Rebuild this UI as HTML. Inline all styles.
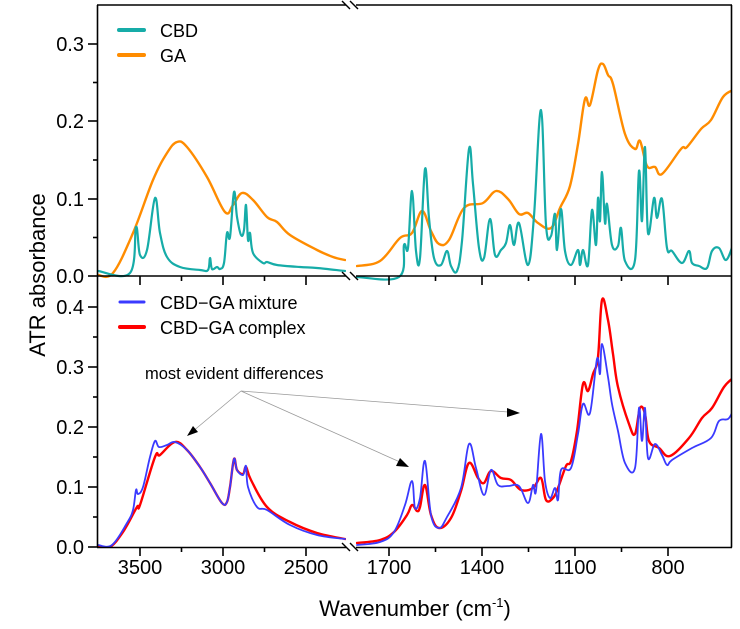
<!DOCTYPE html>
<html><head><meta charset="utf-8"><style>
html,body{margin:0;padding:0;background:#fff;}
svg{display:block;font-family:"Liberation Sans",Arial,sans-serif;}
</style></head><body>
<svg id="s" width="740" height="629" viewBox="0 0 740 629" xmlns="http://www.w3.org/2000/svg">
<defs>
<clipPath id="cl"><rect x="98" y="5" width="248" height="542"/></clipPath>
<clipPath id="cr"><rect x="356" y="5" width="376" height="542"/></clipPath>
</defs>
<g fill="none" stroke-linejoin="round" stroke-linecap="round">
<g clip-path="url(#cl)">
<polyline class="sm" stroke="#ff8c00" stroke-width="2.4" points="98,275 113,273 133,233 153,180 167,153 177,142 187,147 207,177 225,212 233,205 242,193 253,200 267,217 277,222 290,235 317,250 333,257 345,260"/>
<polyline class="sm" stroke="#16aca8" stroke-width="2.2" points="98,271 130,273 136,227 140,255 147,250 155,198 160,233 167,257 180,267 200,270 208,270 210,258 212,269 217,267 220,269 224,263 227,233 230,237 234,192 237,217 241,235 244,230 246,205 248,240 250,233 253,253 263,263 267,262 277,265 300,267 317,268 345,271"/>
<polyline class="sm" stroke="#ff0000" stroke-width="2.4" points="98,547 110,547 123,532 137,507 140,505 155,457 160,455 175,442 187,450 200,467 210,483 222,503 227,502 230,487 234,459 237,470 243,474 246,467 251,480 267,507 290,522 317,533 345,539"/>
<polyline class="sm" stroke="#3a3aff" stroke-width="1.8" points="98,545 112,545 127,523 133,510 136,490 138,494 143,487 150,457 155,441 159,447 167,445 175,442 187,450 200,467 210,483 222,503 227,502 230,487 234,459 237,470 243,475 246,466 248,487 257,507 267,510 290,525 317,535 345,539"/>
</g>
<g clip-path="url(#cr)">
<polyline class="sm" stroke="#ff8c00" stroke-width="2.4" points="357,266 380,261 400,238 412,233 422,211 431,231 439,244 449,240 464,208 483,203 496,191 508,199 519,214 528,213 538,223 551,228 560,208 570,186 578,144 585,99 590,105 598,70 603,64 608,75 613,84 625,134 635,149 640,141 647,166 655,167 662,174 681,149 687,147 701,129 711,120 723,97 733,90"/>
<polyline class="sm" stroke="#16aca8" stroke-width="2.2" points="357,277 399,277 404,245 408,248 412,191 416,251 420,258 425,169 429,218 434,258 441,265 447,251 451,266 457,271 462,241 469,149 473,184 479,248 484,258 490,219 495,255 501,250 506,243 510,225 514,245 519,223 528,265 534,216 541,110 546,225 551,236 555,214 557,250 561,209 565,251 571,265 578,250 580,265 583,250 588,265 592,210 596,245 598,198 600,221 602,172 605,223 607,204 612,245 618,246 621,228 625,261 635,260 639,171 642,221 645,147 648,233 654,198 657,218 662,199 667,248 672,251 682,263 689,251 692,263 699,266 707,268 712,251 719,248 726,260 733,245"/>
<polyline class="sm" stroke="#ff0000" stroke-width="2.4" points="357,543 380,540 394,532 407,515 412,505 417,511 420,507 425,485 431,515 439,528 451,518 461,491 469,463 478,478 484,483 491,471 501,478 511,480 521,490 533,488 541,478 546,500 553,498 558,488 566,466 571,461 577,431 583,384 588,391 593,374 598,357 602,300 608,320 613,354 618,387 629,424 635,434 640,408 645,414 649,441 659,448 670,456 689,438 702,418 712,408 724,387 733,378"/>
<polyline class="sm" stroke="#3a3aff" stroke-width="1.8" points="357,545 380,542 394,532 405,505 412,481 415,508 420,498 425,461 431,515 439,528 447,517 461,488 469,444 476,468 484,495 491,470 498,485 508,486 519,486 528,503 533,485 536,491 541,434 545,481 550,498 555,488 558,500 561,470 571,468 578,434 583,404 590,413 597,359 600,374 602,344 608,377 612,404 618,431 625,463 635,468 639,408 642,441 645,408 648,458 655,444 662,455 667,465 672,460 692,448 711,438 719,421 728,419 733,411"/>
</g>
</g>
<g stroke="#000" stroke-width="1.6" fill="none">
<line x1="97.5" y1="5" x2="97.5" y2="547.5"/>
<line x1="731.5" y1="5" x2="731.5" y2="547.5"/>
<line x1="97" y1="5" x2="346" y2="5"/><line x1="356" y1="5" x2="732" y2="5"/>
<line x1="97" y1="276" x2="346" y2="276"/><line x1="356" y1="276" x2="732" y2="276"/>
<line x1="97" y1="547.5" x2="346" y2="547.5"/><line x1="356" y1="547.5" x2="732" y2="547.5"/>
<g stroke-width="1.4">
<line x1="342" y1="1" x2="350" y2="9"/><line x1="350" y1="1" x2="358" y2="9"/>
<line x1="342" y1="272" x2="350" y2="280"/><line x1="350" y1="272" x2="358" y2="280"/>
<line x1="342" y1="543" x2="350" y2="551"/><line x1="350" y1="543" x2="358" y2="551"/>
</g>
<line x1="88" y1="44" x2="97" y2="44"/><line x1="88" y1="121" x2="97" y2="121"/><line x1="88" y1="199" x2="97" y2="199"/><line x1="88" y1="276" x2="97" y2="276"/>
<line x1="93" y1="82.5" x2="97" y2="82.5"/><line x1="93" y1="160" x2="97" y2="160"/><line x1="93" y1="237.5" x2="97" y2="237.5"/>
<line x1="88" y1="307" x2="97" y2="307"/><line x1="88" y1="367" x2="97" y2="367"/><line x1="88" y1="427" x2="97" y2="427"/><line x1="88" y1="487" x2="97" y2="487"/><line x1="88" y1="547" x2="97" y2="547"/>
<line x1="93" y1="337" x2="97" y2="337"/><line x1="93" y1="397" x2="97" y2="397"/><line x1="93" y1="457" x2="97" y2="457"/><line x1="93" y1="517" x2="97" y2="517"/>
<line x1="140" y1="547" x2="140" y2="556"/><line x1="223" y1="547" x2="223" y2="556"/><line x1="306" y1="547" x2="306" y2="556"/>
<line x1="181.5" y1="547" x2="181.5" y2="552"/><line x1="264.5" y1="547" x2="264.5" y2="552"/>
<line x1="389" y1="547" x2="389" y2="556"/><line x1="482" y1="547" x2="482" y2="556"/><line x1="575" y1="547" x2="575" y2="556"/><line x1="668" y1="547" x2="668" y2="556"/>
<line x1="435.5" y1="547" x2="435.5" y2="552"/><line x1="528.5" y1="547" x2="528.5" y2="552"/><line x1="621.5" y1="547" x2="621.5" y2="552"/>
<line x1="140" y1="276" x2="140" y2="285"/><line x1="223" y1="276" x2="223" y2="285"/><line x1="306" y1="276" x2="306" y2="285"/>
<line x1="181.5" y1="276" x2="181.5" y2="281"/><line x1="264.5" y1="276" x2="264.5" y2="281"/>
<line x1="389" y1="276" x2="389" y2="285"/><line x1="482" y1="276" x2="482" y2="285"/><line x1="575" y1="276" x2="575" y2="285"/><line x1="668" y1="276" x2="668" y2="285"/>
<line x1="435.5" y1="276" x2="435.5" y2="281"/><line x1="528.5" y1="276" x2="528.5" y2="281"/><line x1="621.5" y1="276" x2="621.5" y2="281"/>
</g>
<g font-size="20" fill="#000" text-anchor="end">
<text x="84" y="51">0.3</text><text x="84" y="128">0.2</text><text x="84" y="206">0.1</text><text x="84" y="283">0.0</text>
<text x="84" y="314">0.4</text><text x="84" y="374">0.3</text><text x="84" y="434">0.2</text><text x="84" y="494">0.1</text><text x="84" y="554">0.0</text>
</g>
<g font-size="20" fill="#000" text-anchor="middle">
<text x="140" y="574">3500</text><text x="223" y="574">3000</text><text x="306" y="574">2500</text>
<text x="389" y="574">1700</text><text x="482" y="574">1400</text><text x="575" y="574">1100</text><text x="668" y="574">800</text>
</g>
<text x="415" y="616" font-size="22" text-anchor="middle">Wavenumber (cm<tspan font-size="13" dy="-9">-1</tspan><tspan dy="9">)</tspan></text>
<text transform="translate(45,275) rotate(-90)" font-size="22" text-anchor="middle">ATR absorbance</text>
<line x1="119" y1="30" x2="144" y2="30" stroke="#16aca8" stroke-width="4" stroke-linecap="round"/>
<line x1="119" y1="55" x2="144" y2="55" stroke="#ff8c00" stroke-width="4" stroke-linecap="round"/>
<text x="160" y="37" font-size="18">CBD</text>
<text x="160" y="62" font-size="18">GA</text>
<line x1="120" y1="302" x2="144" y2="302" stroke="#3a3aff" stroke-width="3" stroke-linecap="round"/>
<line x1="120" y1="327" x2="144" y2="327" stroke="#ff0000" stroke-width="4" stroke-linecap="round"/>
<text x="160" y="309" font-size="18">CBD−GA mixture</text>
<text x="160" y="334" font-size="18">CBD−GA complex</text>
<text x="145" y="379" font-size="16.5">most evident differences</text>
<g stroke="#999" stroke-width="0.8">
<line x1="241" y1="391" x2="192" y2="432"/>
<line x1="241" y1="391" x2="400" y2="462"/>
<line x1="241" y1="391" x2="508" y2="412"/>
</g>
<g fill="#000">
<polygon points="187,436 193,426 198,432"/>
<polygon points="409,467 396,466 400,458"/>
<polygon points="520,413 507,408 507,417"/>
</g>
</svg>
<script>
(function(){
var ns="http://www.w3.org/2000/svg";
var pls=document.querySelectorAll("polyline.sm");
for(var k=0;k<pls.length;k++){
 var pl=pls[k];
 var raw=pl.getAttribute("points").trim().split(/\s+/).map(function(s){var a=s.split(",");return [+a[0],+a[1]];});
 var d="M"+raw[0][0]+","+raw[0][1];
 for(var i=0;i<raw.length-1;i++){
  var p0=raw[i-1]||raw[i],p1=raw[i],p2=raw[i+1],p3=raw[i+2]||p2,t=0.18;
  var c1x=p1[0]+(p2[0]-p0[0])*t,c1y=p1[1]+(p2[1]-p0[1])*t;
  var c2x=p2[0]-(p3[0]-p1[0])*t,c2y=p2[1]-(p3[1]-p1[1])*t;
  d+=" C"+c1x.toFixed(1)+","+c1y.toFixed(1)+" "+c2x.toFixed(1)+","+c2y.toFixed(1)+" "+p2[0]+","+p2[1];
 }
 var p=document.createElementNS(ns,"path");
 p.setAttribute("d",d);
 p.setAttribute("stroke",pl.getAttribute("stroke"));
 p.setAttribute("stroke-width",pl.getAttribute("stroke-width"));
 pl.parentNode.replaceChild(p,pl);
}
})();
</script>
</body></html>
